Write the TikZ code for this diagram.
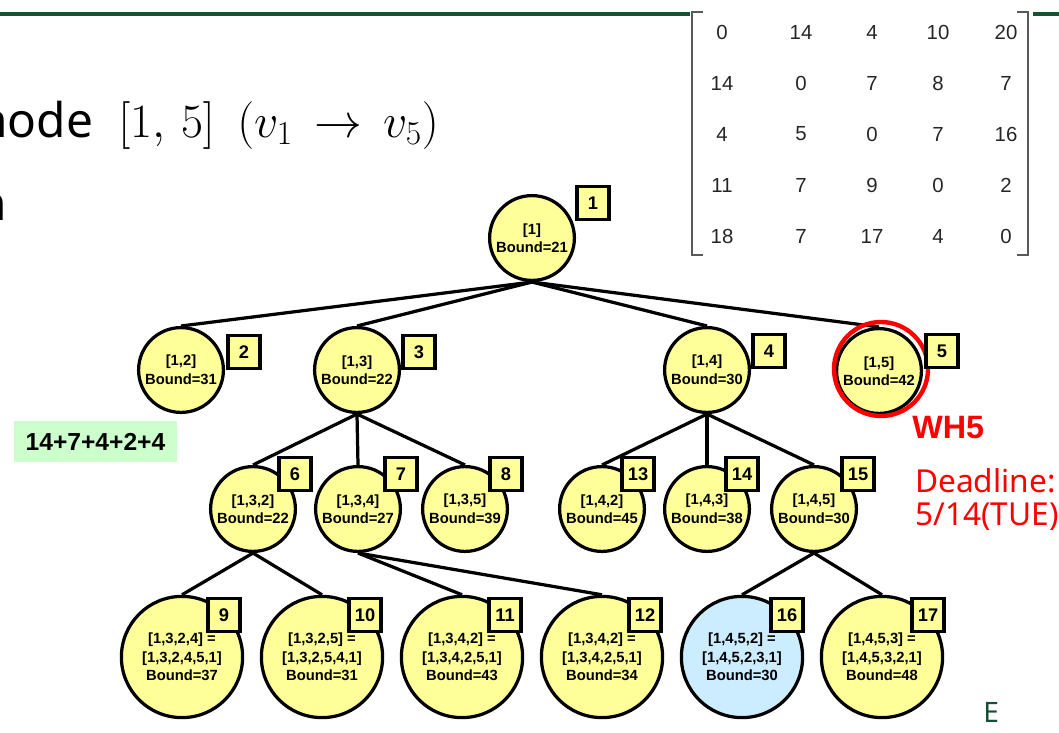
\RequirePackage{fix-cm}
\documentclass[tikz,border=0pt]{standalone}
\usepackage{fontspec}
\setsansfont{Liberation Sans}
\newfontfamily\slidefont{Noto Sans}

\definecolor{nodeyellow}{RGB}{255,255,153}
\definecolor{nodeblue}{RGB}{204,236,255}
\definecolor{notegreen}{RGB}{204,255,204}
\definecolor{slidegreen}{RGB}{20,82,52}

\tikzset{
  state/.style={circle, draw, line width=2.3pt, fill=nodeyellow, minimum size=2.12cm,
    inner sep=0pt, align=center, font=\sffamily\bfseries\fontsize{10.5}{13.2}\selectfont},
  leaf/.style={state, minimum size=3.03cm},
  tag/.style={rectangle, draw, line width=2.5pt, fill=nodeyellow, minimum width=0.8cm,
    minimum height=0.82cm, inner sep=0pt, font=\sffamily\bfseries\fontsize{13}{13}\selectfont},
  entry/.style={inner sep=0pt, black!85, font=\sffamily\fontsize{14.5}{14.5}\selectfont},
  edge/.style={line width=2.3pt}
}

\begin{document}
\begin{tikzpicture}[x=0.025cm, y=-0.025cm]
    % Frame
    \useasboundingbox (0,0) rectangle (1059,732);
    \clip (0,0) rectangle (1059,732);

    % Slide rule and title
    \draw[slidegreen, line width=0.1cm] (0,14) -- (690,14);
    \draw[slidegreen, line width=0.1cm] (1033,14) -- (1059,14);
    \node[anchor=base west, inner sep=0pt, font=\slidefont\fontsize{34}{40}\selectfont] (title) at (-22,137) {node};
    \node[anchor=base west, inner sep=0pt, font=\fontsize{34}{40}\selectfont] (range) at (118,137) {$[1,\,5]$};
    \node[anchor=base west, inner sep=0pt, font=\fontsize{34}{40}\selectfont] (path) at (237,137) {$(v_1 \,\rightarrow\, v_5)$};
    \node[anchor=base east, inner sep=0pt, font=\slidefont\fontsize{34}{40}\selectfont] (cut) at (7,220) {n};

    % Distance matrix
    \draw[black!65, line width=1.4pt] (703,12) -- (692,12) -- (692,255) -- (703,255);
    \draw[black!65, line width=1.4pt] (1017,12) -- (1028,12) -- (1028,255) -- (1017,255);
    \foreach \row [count=\r] in {{0,14,4,10,20},{14,0,7,8,7},{4,5,0,7,16},{11,7,9,0,2},{18,7,17,4,0}}
      \foreach \val [count=\c] in \row {
        \pgfmathsetmacro\mx{{722,801,872,938,1006}[\c-1]}
        \node[entry] (m\r\c) at (\mx,{32+51*(\r-1)}) {\val};
      }

    % Tree nodes
    \node[state] (n1) at (532,238) {[1]\\Bound=21};
    \node[state] (n2) at (181,370) {[1,2]\\Bound=31};
    \node[state] (n3) at (357,370) {[1,3]\\Bound=22};
    \node[state] (n4) at (707,370) {[1,4]\\Bound=30};
    \node[state] (n5) at (879,371) {[1,5]\\Bound=42};
    \node[state] (n6) at (253,509) {[1,3,2]\\Bound=22};
    \node[state] (n7) at (358,509) {[1,3,4]\\Bound=27};
    \node[state] (n8) at (465,509) {[1,3,5]\\Bound=39};
    \node[state] (n13) at (602,509) {[1,4,2]\\Bound=45};
    \node[state] (n14) at (707,509) {[1,4,3]\\Bound=38};
    \node[state] (n15) at (814,509) {[1,4,5]\\Bound=30};
    \node[leaf] (n9) at (182,657) {[1,3,2,4] =\\{}[1,3,2,4,5,1]\\Bound=37};
    \node[leaf] (n10) at (322,657) {[1,3,2,5] =\\{}[1,3,2,5,4,1]\\Bound=31};
    \node[leaf] (n11) at (462,657) {[1,3,4,2] =\\{}[1,3,4,2,5,1]\\Bound=43};
    \node[leaf] (n12) at (602,657) {[1,3,4,2] =\\{}[1,3,4,2,5,1]\\Bound=34};
    \node[leaf, fill=nodeblue] (n16) at (742,657) {[1,4,5,2] =\\{}[1,4,5,2,3,1]\\Bound=30};
    \node[leaf] (n17) at (882,657) {[1,4,5,3] =\\{}[1,4,5,3,2,1]\\Bound=48};

    % Branches
    \foreach \a/\b in {n1/n2,n1/n3,n1/n4,n1/n5,n3/n6,n3/n7,n3/n8,n4/n13,n4/n14,n4/n15,
                       n6/n9,n6/n10,n7/n11,n7/n12,n15/n16,n15/n17}
      \draw[edge] (\a.south) -- (\b.north);

    % Highlight of [1,5]
    \node[circle, draw=red, line width=0.11cm, minimum size=2.35cm, inner sep=0pt] (ring5) at (881,369) {};

    % Order tags
    \foreach \i/\x/\y in {1/593/203, 2/244/352, 3/419/352, 4/769/351, 5/942/351,
                          6/295/474, 7/401/474, 8/506/474, 13/638/474, 14/742/474, 15/858/474,
                          9/224/615, 10/365/615, 11/505/615, 12/645/615, 16/787/615, 17/928/615}
      \node[tag] (t\i) at (\x,\y) {\i};

    % Notes
    \node[fill=notegreen, minimum width=4.08cm, minimum height=1.02cm, inner sep=0pt,
          font=\sffamily\bfseries\fontsize{17.5}{20}\selectfont] (sum) at (95.5,441.5) {14+7+4+2+4};
    \node[anchor=base west, inner sep=0pt, red, font=\sffamily\bfseries\fontsize{23}{26}\selectfont] (wh) at (912,438) {WH5};
    \node[anchor=base west, inner sep=0pt, red, font=\slidefont\fontsize{22.5}{26}\selectfont] (deadline) at (915,492) {Deadline:};
    \node[anchor=base west, inner sep=0pt, red, font=\slidefont\fontsize{22.5}{26}\selectfont] (due) at (915,525) {5/14(TUE)};
    \node[anchor=base west, inner sep=0pt, slidegreen, font=\slidefont\fontsize{20}{24}\selectfont] (footer) at (983,722) {E};
\end{tikzpicture}
\end{document}
